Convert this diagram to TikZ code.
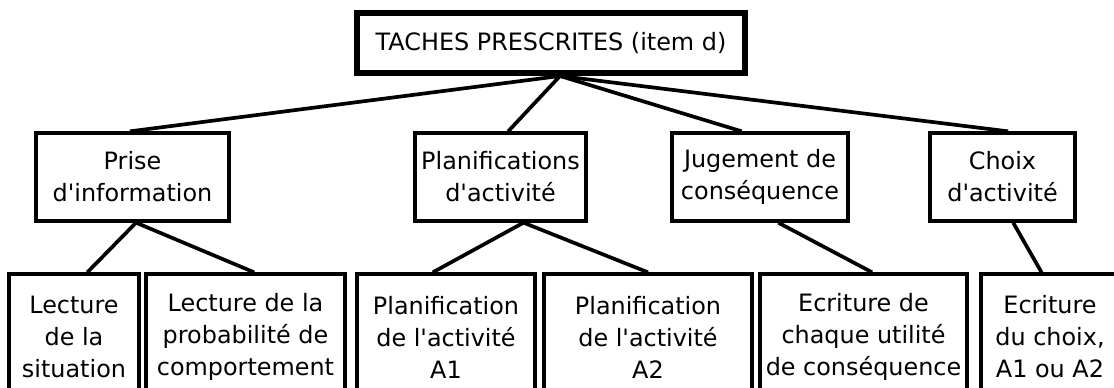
\documentclass[tikz,border=0pt]{standalone}
\usepackage{fontspec}
\newfontfamily\genevafont{DejaVu Sans}
\usetikzlibrary{calc}

\begin{document}
\begin{tikzpicture}[x=0.02cm,y=-0.02cm,
	  every node/.style={font=\genevafont\fontsize{13.6}{18.2}\selectfont, align=center, inner sep=0pt},
	  tache/.style={draw, line width=3.4pt, minimum width=7.76cm, minimum height=1.2cm},
	  etape/.style={draw, line width=1.9pt, minimum width=#1, minimum height=1.76cm},
	  detail/.style={draw, line width=1.9pt, minimum width=#1, minimum height=2.52cm},
	  lien/.style={line width=2.1pt}]
	  \useasboundingbox (0,0) rectangle (1114,387);
	  \clip (0,0) rectangle (1114,387);   % bottom boxes run off the page
	  \fill[white] (0,0) rectangle (1114,387);

	  % root
	  \node[tache] (taches) at (551,43) {TACHES PRESCRITES (item d)};

	  % second level
	  \node[etape=3.86cm] (prise) at (132.5,177) {Prise\\d'information};
	  \node[etape=3.42cm] (planifs) at (500.5,177) {Planifications\\d'activit\'e};
	  \node[etape=3.52cm] (jugement) at (760,177) {Jugement de\\cons\'equence};
	  \node[etape=2.9cm] (choix) at (1002.5,177) {Choix\\d'activit\'e};

	  % third level
	  \node[detail=2.6cm] (situation) at (74,337) {Lecture\\de la\\situation};
	  \node[detail=3.98cm] (proba) at (245.5,337) {Lecture de la\\probabilit\'e de\\comportement};
	  \node[detail=3.56cm] (planA) at (446,337) {Planification\\de l'activit\'e\\A1};
	  \node[detail=4.16cm] (planB) at (648,337) {Planification\\de l'activit\'e\\A2};
	  \node[detail=4.14cm] (utilite) at (863.5,337) {Ecriture de\\chaque utilit\'e\\de cons\'equence};
	  \node[detail=2.76cm] (ecrchoix) at (1050,337) {Ecriture\\du choix,\\A1 ou A2};

	  % root to second level
	  \draw[lien] ([xshift=0.18cm]taches.south) -- ($(prise.north west)!.487!(prise.north east)$);
	  \draw[lien] ([xshift=0.18cm]taches.south) -- ($(planifs.north west)!.544!(planifs.north east)$);
	  \draw[lien] ([xshift=0.18cm]taches.south) -- ($(jugement.north west)!.398!(jugement.north east)$);
	  \draw[lien] ([xshift=0.18cm]taches.south) -- ($(choix.north west)!.538!(choix.north east)$);

	  % second level to third level
	  \draw[lien] ($(prise.south west)!.518!(prise.south east)$) -- ($(situation.north west)!.6!(situation.north east)$);
	  \draw[lien] ($(prise.south west)!.518!(prise.south east)$) -- ($(proba.north west)!.543!(proba.north east)$);
	  \draw[lien] ($(planifs.south west)!.632!(planifs.south east)$) -- ($(planA.north west)!.427!(planA.north east)$);
	  \draw[lien] ($(planifs.south west)!.632!(planifs.south east)$) -- ($(planB.north west)!.5!(planB.north east)$);
	  \draw[lien] ($(jugement.south west)!.602!(jugement.south east)$) -- ($(utilite.north west)!.541!(utilite.north east)$);
	  \draw[lien] ($(choix.south west)!.572!(choix.south east)$) -- ($(ecrchoix.north west)!.44!(ecrchoix.north east)$);

	\end{tikzpicture}
\end{document}
